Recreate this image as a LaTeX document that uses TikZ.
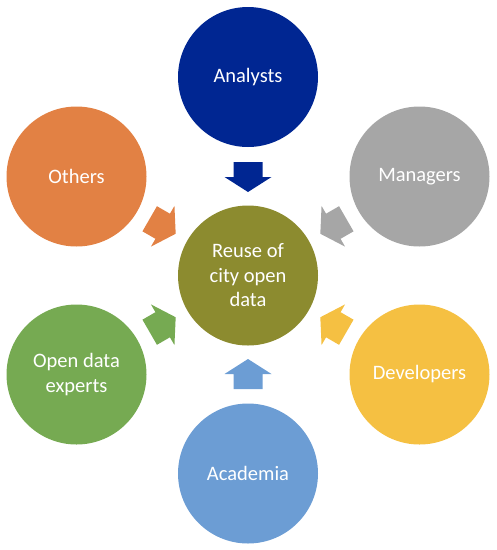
\documentclass[tikz,border=0pt]{standalone}
\usepackage{fontspec}
\setmainfont{Carlito}
\usetikzlibrary{calc}
\definecolor{cAnalyst}{RGB}{0,38,146}
\definecolor{cOthers}{RGB}{226,129,68}
\definecolor{cManager}{RGB}{166,166,166}
\definecolor{cDevel}{RGB}{245,192,66}
\definecolor{cExpert}{RGB}{118,170,82}
\definecolor{cAcad}{RGB}{108,157,212}
\definecolor{cCenter}{RGB}{140,139,47}
\tikzset{
  bubble/.style={circle, minimum size=140pt, inner sep=0pt, text=white,
    align=center, font=\fontsize{20.5pt}{24.5pt}\selectfont},
  blockarr/.pic={\fill[pic actions] (-15,14.5) -- (0,14.5) -- (0,23.5) -- (15,0)
     -- (0,-23.5) -- (0,-14.5) -- (-15,-14.5) -- cycle;}
}
\begin{document}
\begin{tikzpicture}[x=1pt,y=-1pt]
\useasboundingbox (0,0) rectangle (497,550);
\node[bubble, fill=cCenter] (c) at (248,275.5) {Reuse of\\city open\\data};
\node[bubble, fill=cAnalyst] (an) at (248,77) {Analysts};
\node[bubble, fill=cOthers] (ot) at (76.5,176.5) {Others};
\node[bubble, fill=cManager] (ma) at (419.5,176.5) {Managers};
\node[bubble, fill=cExpert] (ex) at (76.5,374.5) {Open data\\experts};
\node[bubble, fill=cDevel] (de) at (419.5,374.5) {Developers};
\node[bubble, fill=cAcad] (ac) at (248,473.5) {Academia};
\pic[fill=cAnalyst, rotate=-90] at ($(c.center)!98.5pt!(an.center)$) {blockarr};
\pic[fill=cOthers, rotate=-30] at ($(c.center)!98.5pt!(ot.center)$) {blockarr};
\pic[fill=cManager, rotate=-150] at ($(c.center)!98.5pt!(ma.center)$) {blockarr};
\pic[fill=cExpert, rotate=30] at ($(c.center)!98.5pt!(ex.center)$) {blockarr};
\pic[fill=cDevel, rotate=150] at ($(c.center)!98.5pt!(de.center)$) {blockarr};
\pic[fill=cAcad, rotate=90] at ($(c.center)!98.5pt!(ac.center)$) {blockarr};
\end{tikzpicture}
\end{document}
